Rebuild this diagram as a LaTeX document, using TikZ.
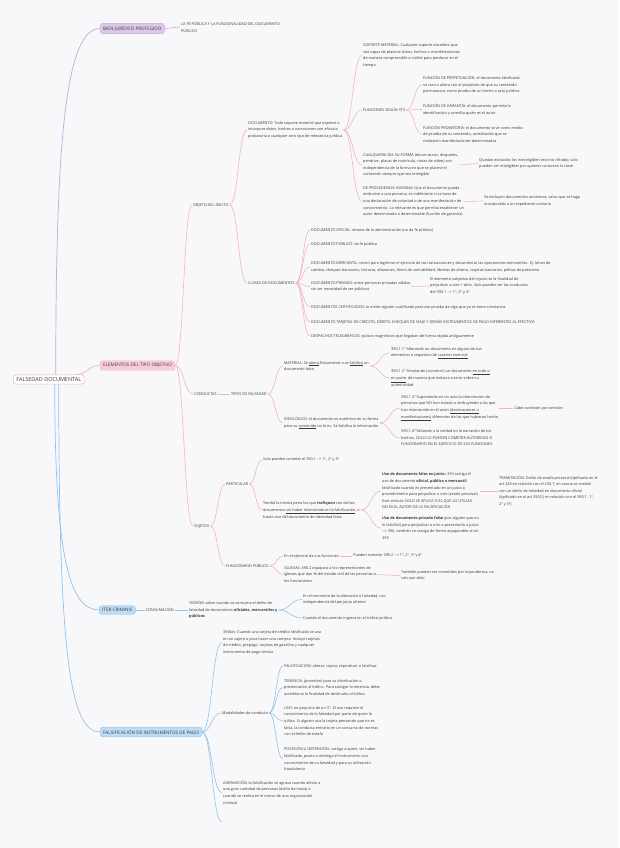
\documentclass[tikz,border=0pt]{standalone}
\usepackage{fontspec}
\setsansfont{Open Sans}
\usetikzlibrary{positioning, calc}
\definecolor{pagebg}{HTML}{F8F8FA}
\definecolor{inkgray}{HTML}{3A3A3A}
\definecolor{purpleln}{HTML}{C9A8DA}
\definecolor{purplebg}{HTML}{DCC9E8}
\definecolor{pinkln}{HTML}{F2B3CA}
\definecolor{pinkbg}{HTML}{F9CCDD}
\definecolor{blueln}{HTML}{92C3EC}
\definecolor{bluebg}{HTML}{BEDCF5}
\newcommand\leafsize{\sffamily\fontsize{3.8}{6.6}\selectfont}
\newcommand\boxsize{\sffamily\fontsize{4.6}{5.5}\selectfont}
\newcommand\toarr{-\kern0pt-\kern0pt>}

\begin{document}
\begin{tikzpicture}[
    x=1pt, y=-1pt,
    leaf/.style={font=\leafsize, text=inkgray, align=left, inner sep=1pt, anchor=west},
    mainbox/.style={font=\boxsize, text=inkgray, rounded corners=2.5pt, inner xsep=3pt,
                    inner ysep=2.6pt, anchor=west, line width=0.4pt},
    curvy/.style={to path={let \p1=(\tikztostart), \p2=(\tikztotarget),
                  \p3=($(\p1)!0.5!(\p2)$) in .. controls (\x3,\y1) and (\x3,\y2) .. (\tikztotarget) \tikztonodes}},
    plink/.style={draw=purpleln, line width=0.6pt, curvy},
    klink/.style={draw=pinkln, line width=0.6pt, curvy},
    blink/.style={draw=blueln, line width=0.6pt, curvy},
  ]
  \fill[pagebg] (0,0) rectangle (619,848);
  \useasboundingbox (0,0) rectangle (619,848);

  % ── Root and main topics ──
  \node[mainbox, fill=white, draw=pinkln, line width=0.6pt, font=\sffamily\fontsize{5.5}{6.5}\selectfont]
    (root) at (13,379.5) {FALSEDAD DOCUMENTAL};
  \node[mainbox, fill=purplebg, draw=purpleln] (bien) at (100,28.5) {BIEN JURÍDICO PROTEGIDO};
  \node[mainbox, fill=pinkbg, draw=pinkln] (elem) at (100,365.5) {ELEMENTOS DEL TIPO OBJETIVO};
  \node[mainbox, fill=bluebg, draw=blueln] (iter) at (99,610) {ITER CRIMINIS};
  \node[mainbox, fill=bluebg, draw=blueln] (falsipago) at (100,732) {FALSIFICACIÓN DE INSTRUMENTOS DE PAGO};

  \draw[purpleln, line width=0.7pt] ([xshift=7pt]root.north) .. controls +(0,-230) and +(-35,0) .. (bien.west);
  \draw[klink, line width=0.7pt] ([xshift=-9pt]root.north east) to (elem.west);
  \draw[blueln, line width=0.7pt] ([xshift=6pt]root.south) .. controls +(0,170) and +(-30,0) .. (iter.west);
  \draw[blueln, line width=0.7pt] ([xshift=10pt]root.south) .. controls +(0,270) and +(-30,0) .. (falsipago.west);

  % ── Bien jurídico ──
  \node[leaf] (bienfe) at (180,27) {LA FE PÚBLICA Y LA FUNCIONALIDAD DEL DOCUMENTO\\PÚBLICO};
  \draw[plink] (bien.east) to (bienfe.west);

  % ── Objeto del delito ──
  \node[leaf] (objeto) at (192,205) {OBJETO DEL DELITO};
  \node[leaf] (docu) at (247,130) {DOCUMENTO: Todo soporte material que exprese o\\incorpore datos, hechos o narraciones con eficacia\\probatoria o cualquier otro tipo de relevancia jurídica};
  \node[leaf] (soporte) at (362,55.5) {SOPORTE MATERIAL: Cualquier soporte duradero que\\sea capaz de plasmar datos, hechos o manifestaciones\\de manera comprensible o visible para perdurar en el\\tiempo};
  \node[leaf] (funciones) at (362,110) {FUNCIONES SEGÚN STS};
  \node[leaf] (fperp) at (422,85) {FUNCIÓN DE PERPETUACIÓN: el documento falsificado\\se crea o altera con el propósito de que su contenido\\permanezca, como prueba de un hecho o acto jurídico};
  \node[leaf] (fgar) at (422,109.5) {FUNCIÓN DE GARANTÍA: el documento permite la\\identificación y acredita quién es el autor};
  \node[leaf] (fprob) at (422,134) {FUNCIÓN PROBATORIA: el documento sirve como medio\\de prueba de su contenido, acreditando que se\\realizaron manifestaciones determinadas};
  \node[leaf] (cualq) at (362,165) {CUALQUIERA SEA SU FORMA (discos duros, disquetes,\\pendrive, placas de matrícula, cintas de vídeo) con\\independencia de la forma en que se plasme el\\contenido siempre que sea inteligible};
  \node[leaf] (quedan) at (478,163.5) {Quedan excluidos los ininteligibles (escrito cifrado), solo\\pueden ser inteligibles por quienes conozcan la clave};
  \node[leaf] (proced) at (362,201.5) {DE PROCEDENCIA HUMANA: Que el documento pueda\\atribuirse a una persona, es indiferente si se trata de\\una declaración de voluntad o de una manifestación de\\conocimiento. Lo relevante es que permita establecer un\\autor determinado o determinable (función de garantía)};
  \node[leaf] (anonim) at (483,201) {Se excluyen documentos anónimos, salvo que se haga\\incorporado a un expediente sumario};

  \draw[klink] (elem.east) to (objeto.west);
  \draw[klink] (objeto.east) to (docu.west);
  \foreach \kid in {soporte, funciones, cualq, proced}
    \draw[klink] (docu.east) to (\kid.west);
  \foreach \kid in {fperp, fgar, fprob}
    \draw[klink] (funciones.east) to (\kid.west);
  \draw[klink] (cualq.east) to (quedan.west);
  \draw[klink] (proced.east) to (anonim.west);

  % ── Clases de documentos ──
  \node[leaf] (clases) at (247,283) {CLASES DE DOCUMENTOS};
  \node[leaf] (doficial) at (310,230) {DOCUMENTO OFICIAL: emana de la administración (no da fe pública)};
  \node[leaf] (dpublico) at (310,244) {DOCUMENTO PÚBLICO: da fe pública};
  \node[leaf] (dmerc) at (310,267) {DOCUMENTO MERCANTIL: sirven para legitimar el ejercicio de las transacciones y documentar las operaciones mercantiles. Ej: letras de\\cambio, cheques bancarios, facturas, albaranes, libros de contabilidad, libretas de ahorro, tarjetas bancarias, pólizas de préstamo};
  \node[leaf] (dpriv) at (310,286.5) {DOCUMENTO PRIVADO: entre personas privadas válidas\\sin ser necesidad de ser públicos};
  \node[leaf] (subjet) at (429,286) {El elemento subjetivo del injusto es la finalidad de\\perjudicar a otro + dolo. Solo pueden ser las conductas\\del 390.1 \toarr{} 1º, 2º y 3º.};
  \node[leaf] (dcert) at (310,307) {DOCUMENTOS CERTIFICADOS: lo emite alguien cualificado para dar prueba de algo que ya se tiene constancia};
  \node[leaf] (dtarj) at (310,322) {DOCUMENTO TARJETAS DE CRÉDITO, DÉBITO, CHEQUES DE VIAJE Y DEMÁS INSTRUMENTOS DE PAGO DIFERENTES AL EFECTIVO};
  \node[leaf] (desp) at (310,336) {DESPACHOS TELEGRÁFICOS: pulsos magnéticos que llegaban de forma rápida antiguamente};

  \draw[klink] (objeto.east) to (clases.west);
  \foreach \kid in {doficial, dpublico, dmerc, dpriv, dcert, dtarj, desp}
    \draw[klink] (clases.east) to (\kid.west);
  \draw[klink] (dpriv.east) to (subjet.west);

  % ── Conductas ──
  \node[leaf] (conductas) at (193,394) {CONDUCTAS};
  \node[leaf, right=12pt of conductas] (tipos) {TIPOS DE FALSEDAD};
  \node[leaf] (material) at (283,366) {MATERIAL: Se \underline{altera} físicamente o se \underline{falsifica} un\\documento falso};
  \node[leaf] (ideol) at (283,423) {IDEOLÓGICO: el documento es auténtico en su forma\\pero su \underline{contenido} no lo es. Se falsifica la información};
  \node[leaf] (art1) at (390,353) {390.1.1º Alterando un documento en alguno de sus\\elementos o requisitos de \underline{carácter esencial}};
  \node[leaf] (art2) at (390,378) {390.1.2º Simulando (construir) un documento \underline{en todo o}\\\underline{en parte}, de manera que induzca a error sobre su\\autenticidad};
  \node[leaf] (art3) at (400,408) {390.1.3º Suponiendo en un acto la intervención de\\personas que NO han estado o atribuyendo a las que\\han intervenido en él actos \underline{(declaraciones o}\\\underline{manifestaciones)} diferentes de las que hubieran hecho};
  \node[leaf, right=14pt of art3] (omision) {Cabe comisión por omisión};
  \node[leaf] (art4) at (400,438) {390.1.4º Faltando a la verdad en la narración de los\\hechos, SOLO LO PUEDEN COMETER AUTORIDAD O\\FUNCIONARIO EN EL EJERCICIO DE SUS FUNCIONES};

  \draw[klink] (elem.east) to (conductas.west);
  \draw[klink] (conductas.east) to (tipos.west);
  \draw[klink] (tipos.east) to (material.west);
  \draw[klink] (tipos.east) to (ideol.west);
  \draw[klink] (material.east) to (art1.west);
  \draw[klink] (material.east) to (art2.west);
  \draw[klink] (ideol.east) to (art3.west);
  \draw[klink] (ideol.east) to (art4.west);
  \draw[klink] (art3.east) to (omision.west);

  % ── Sujetos ──
  \node[leaf] (sujetos) at (193,526) {SUJETOS};
  \node[leaf] (particular) at (225,484) {PARTICULAR};
  \node[leaf] (solo) at (262,460) {Solo pueden cometer el 390.1 \toarr{} 1º, 2º y 3º};
  \node[leaf] (trafico) at (262,510) {Tendrá la misma pena los que \textbf{trafiquen} con dichos\\documentos \underline{sin haber intervenido en la falsificación}, o\\hacen uso del documento de identidad falso};
  \node[leaf] (usofalso) at (381,491) {\textbf{Uso de documento falso en juicio:} 393 castiga el\\uso de documento \textbf{oficial, público o mercantil}\\falsificado cuando es presentado en un juicio o\\procedimiento para perjudicar a otro (estafa procesal).\\Este artículo SOLO SE APLICA SI EL QUE LO UTILIZA\\NO ES EL AUTOR DE LA FALSIFICACIÓN};
  \node[leaf] (tramit) at (498,491) {TRAMITACIÓN: Delito de estafa procesal (tipificado en el\\art 248 en relación con el 250.7, en concurso medial\\con un delito de falsedad en documento oficial\\(tipificado en el art 392(1) en relación con el 390.1. 1º,\\2º y 3º)};
  \node[leaf] (usopriv) at (381,528) {\textbf{Uso de documento privado falso} (por alguien que no\\lo falsificó) para perjudicar a otro o presentarlo a juicio\\\toarr{} 396, también se castiga de forma equiparable al art\\393};
  \node[leaf] (funcionario) at (225,566) {FUNCIONARIO PÚBLICO};
  \node[leaf] (ejercicio) at (283,556) {En el ejercicio de sus funciones};
  \node[leaf, right=12pt of ejercicio] (pueden) {Pueden cometer 390.2 \toarr{} 1º, 2º, 3º y 4º};
  \node[leaf] (iglesias) at (283,574.5) {IGLESIAS: 390.2 equipara a los representantes de\\iglesias que dan fe del estado civil de las personas a\\los funcionarios};
  \node[leaf] (imprud) at (400,575.5) {También pueden ser cometidos por imprudencia, no\\solo por dolo};

  \draw[klink] (elem.east) to (sujetos.west);
  \draw[klink] (sujetos.east) to (particular.west);
  \draw[klink] (sujetos.east) to (funcionario.west);
  \draw[klink] (particular.east) to (solo.west);
  \draw[klink] (particular.east) to (trafico.west);
  \draw[klink] (trafico.east) to (usofalso.west);
  \draw[klink] (trafico.east) to (usopriv.west);
  \draw[klink] (usofalso.east) to (tramit.west);
  \draw[klink] (funcionario.east) to (ejercicio.west);
  \draw[klink] (funcionario.east) to (iglesias.west);
  \draw[klink] (ejercicio.east) to (pueden.west);
  \draw[klink] (iglesias.east) to (imprud.west);

  % ── Iter criminis ──
  \node[leaf, right=9pt of iter] (consum) {CONSUMACIÓN};
  \node[leaf, right=13pt of consum] (teorias) {TEORÍAS sobre cuando se consuma el delito de\\falsedad de documentos \textbf{oficiales, mercantiles y}\\\textbf{públicos}};
  \node[leaf] (momento) at (302,599.5) {En el momento de la alteración o falsedad, con\\independencia del perjuicio ulterior};
  \node[leaf] (ingresa) at (302,618) {Cuando el documento ingresa en el tráfico jurídico};

  \draw[blink] (iter.east) to (consum.west);
  \draw[blink] (consum.east) to (teorias.west);
  \draw[blink] (teorias.east) to (momento.west);
  \draw[blink] (teorias.east) to (ingresa.west);

  % ── Instrumentos de pago ──
  \node[leaf] (bis) at (222,642.5) {390bis: Cuando una tarjeta de crédito falsificada se usa\\en un cajero o para hacer una compra. Incluye tarjetas\\de crédito, prepago, tarjetas de gasolina y cualquier\\instrumento de pago similar};
  \node[leaf] (modal) at (221,713) {Modalidades de conducta};
  \node[leaf] (falsif) at (283,666) {FALSIFICACIÓN: alterar, copiar, reproducir o falsificar};
  \node[leaf] (tenencia) at (283,687.5) {TENENCIA: (posesión) para su distribución o\\presentación al tráfico. Para castigar la tenencia, debe\\acreditarse la finalidad de destinarlo al tráfico};
  \node[leaf] (uso) at (283,721) {USO: en perjuicio de un 3º. El uso requiere el\\conocimiento de la falsedad por parte de quien lo\\utiliza. Si alguien usa la tarjeta pensando que no es\\falsa, la conducta entraría en un concurso de normas\\con el delito de estafa};
  \node[leaf] (posesion) at (283,759) {POSESIÓN U OBTENCIÓN: castiga a quien, sin haber\\falsificado, posea u obtenga el instrumento con\\conocimiento de su falsedad y para su utilización\\fraudulenta};
  \node[leaf] (agrav) at (222,792.5) {AGRAVACIÓN: la falsificación se agrava cuando afecta a\\una gran cantidad de personas (delito de masa) o\\cuando se realiza en el marco de una organización\\criminal};
  \coordinate (blankend) at (222,822);

  \foreach \kid in {bis, modal, agrav}
    \draw[blink] (falsipago.east) to (\kid.west);
  \draw[blink] (falsipago.east) to (blankend);
  \foreach \kid in {falsif, tenencia, uso, posesion}
    \draw[blink] (modal.east) to (\kid.west);

\end{tikzpicture}
\end{document}
